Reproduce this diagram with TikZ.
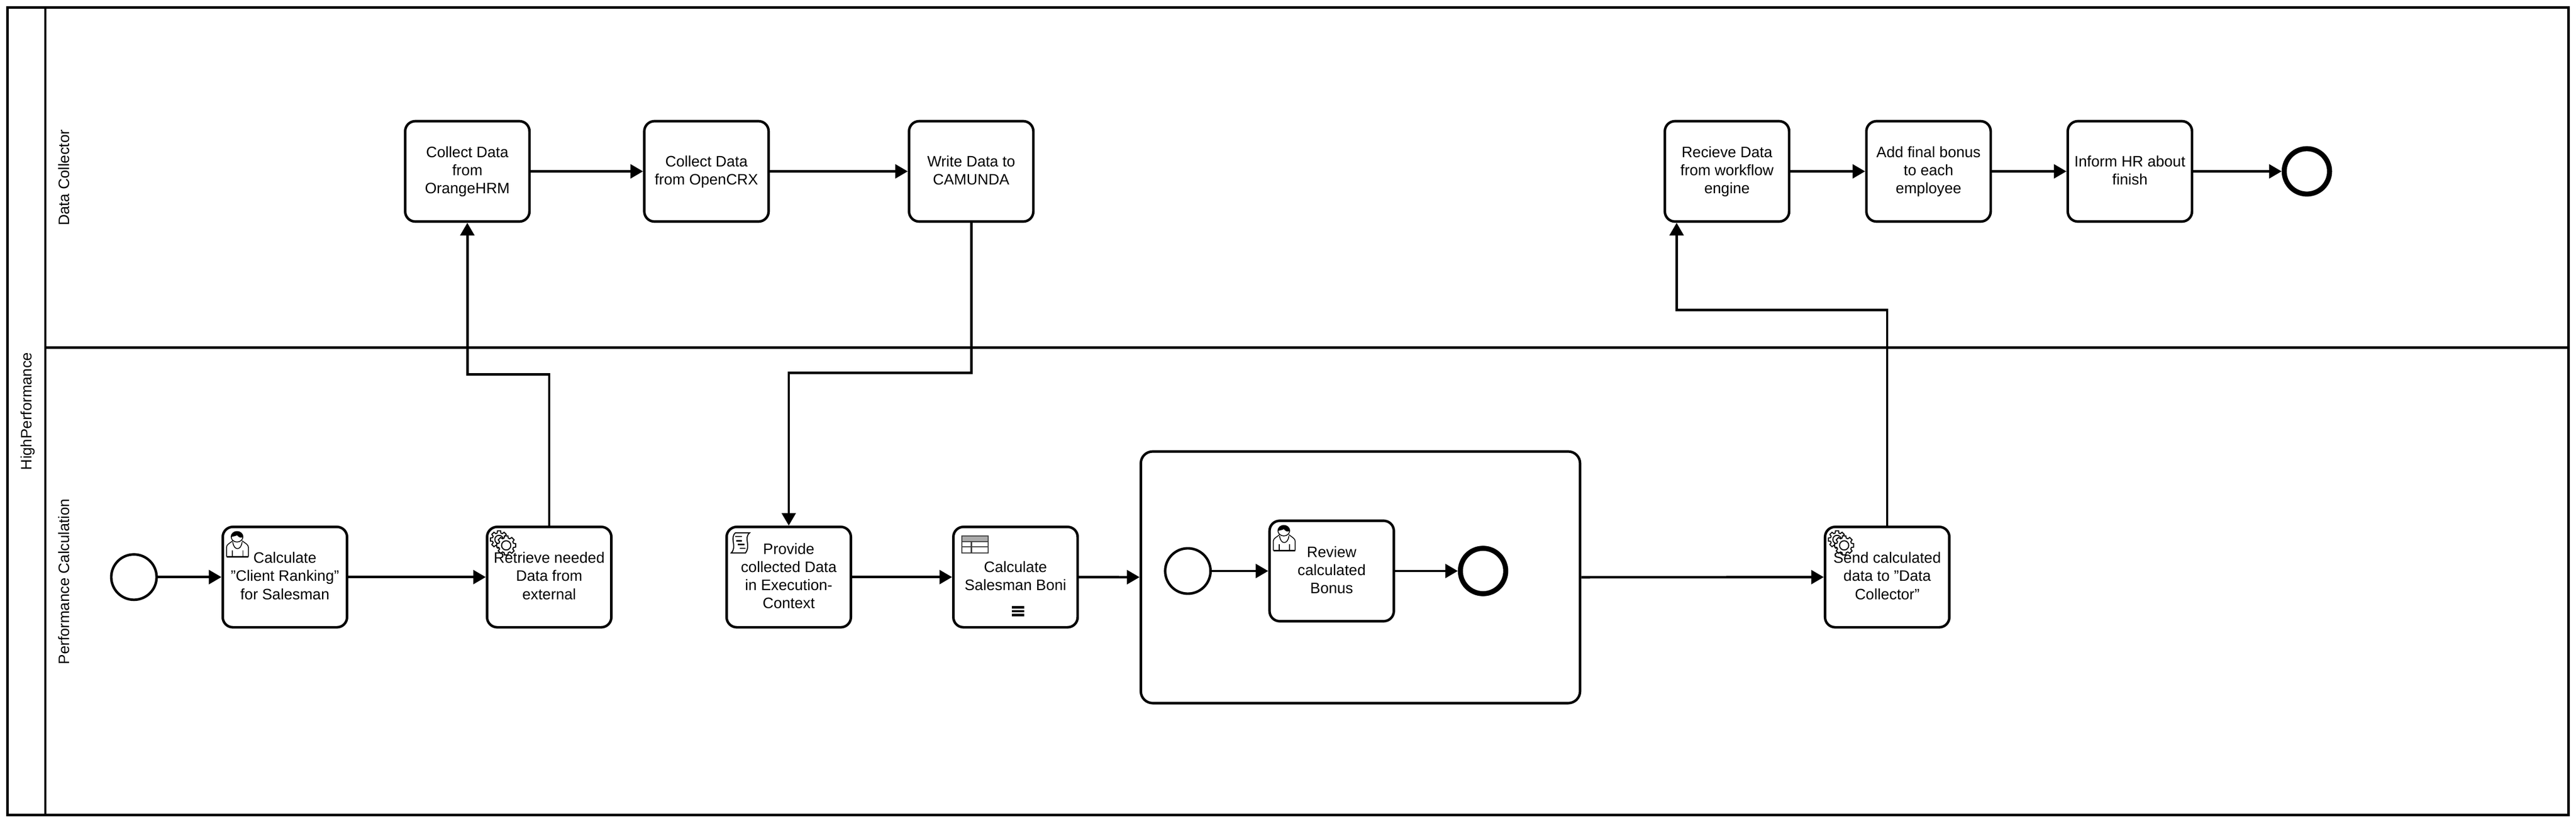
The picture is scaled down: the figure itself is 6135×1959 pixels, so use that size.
\documentclass[tikz,border=0pt]{standalone}
\usepackage{fontspec}
\setmainfont{Liberation Sans}
\usetikzlibrary{
    arrows.meta,
    shapes.geometric,
    calc
}
\tikzset{task/.style={draw=black, line width=6pt, rounded corners=24pt, minimum width=296pt, minimum height=239pt, inner sep=0pt, align=center}}
\tikzset{subp/.style={draw=black, line width=6pt, rounded corners=28pt, minimum width=1046pt, minimum height=599pt, inner sep=0pt}}
\tikzset{evstart/.style={draw=black, circle, line width=6pt, minimum size=108pt, inner sep=0pt}}
\tikzset{evend/.style={draw=black, circle, line width=12pt, minimum size=108pt, inner sep=0pt}}
\tikzset{lanetxt/.style={rotate=90, anchor=base, inner sep=0pt}}
\tikzset{flow/.style={draw=black, line width=6pt, -{Triangle[length=30pt, width=33pt]}}}
\tikzset{plain/.style={draw=black, line width=6pt}}
\tikzset{icoline/.style={draw=black, line width=2.5pt}}
\newcommand{\tasktxt}[1]{\rule{0pt}{30pt}#1\rule[-10pt]{0pt}{10pt}}
\newcommand{\gearat}[4]{
    \draw[icoline, fill=white, shift={(#1,#2)}] (-10:#3)
        \foreach \g in {0,45,...,315}{ -- (\g-10:#3) -- (\g+10:#3) -- (\g+16:#4) -- (\g+29:#4)} -- cycle;
}
\tikzset{
    usrico/.pic={
        \draw[icoline, line width=2pt] (9,71) -- (9,48) .. controls (9,42) and (18,38) .. (24,33);
        \draw[icoline, line width=2pt] (61,71) -- (61,48) .. controls (61,42) and (52,38) .. (46,33);
        \draw[icoline, line width=2pt] (24,36) .. controls (26,57) and (44,57) .. (46,36);
        \draw[icoline, line width=2pt] (34,23.5) ellipse (14 and 12.5);
        \fill[black] (20,24) .. controls (20,6) and (48,6) .. (48,24) .. controls (42,28) and (38,24) .. (34,20) .. controls (30,22) and (24,23) .. (20,24) -- cycle;
        \draw[icoline, line width=2pt] (23,56) -- (23,71);
        \draw[icoline, line width=2pt] (48,56) -- (48,71);
        \draw[icoline, line width=3pt] (9,71) -- (61,71);
    },
    gearico/.pic={
        \gearat{28.5}{30}{21}{16}
        \draw[icoline] (28.5,30) circle (10);
        \gearat{45.5}{44}{23}{18}
        \draw[icoline] (45.5,44) circle (11);
    },
    scrico/.pic={
        \draw[icoline, fill=white] (21,14) -- (55,14) .. controls (40,26) and (58,44) .. (45,62) -- (11,62) .. controls (26,46) and (6,28) .. (21,14) -- cycle;
        \draw[icoline, line width=3pt] (20,23) -- (36,23);
        \draw[icoline, line width=3pt] (23,33) -- (36,33);
        \draw[icoline, line width=3pt] (27,42) -- (43,42);
        \draw[icoline, line width=3pt] (31,51) -- (45,51);
    },
    tblico/.pic={
        \fill[black!33] (20,22) rectangle (83,35);
        \draw[icoline, draw=black!75] (20,22) rectangle (83,62);
        \draw[icoline, draw=black!75] (20,35) -- (83,35);
        \draw[icoline, draw=black!75] (20,47) -- (83,47);
        \draw[icoline, draw=black!75] (43,35) -- (43,62);
    },
    parico/.pic={
        \fill[black] (139,189) rectangle (169,194);
        \fill[black] (139,198) rectangle (169,203);
        \fill[black] (139,207) rectangle (169,213);
    }
}
\begin{document}
\begin{tikzpicture}[x=1pt, y=-1pt, every node/.style={font=\fontsize{36}{43}\selectfont}]
                        \path[fill=white, use as bounding box] (0, 0) rectangle (6135, 1959);

                        \draw[plain] (18, 18) rectangle (6117, 1941);
                        \draw[plain] (108, 18) -- (108, 1941);
                        \draw[plain] (108, 828) -- (6117, 828);

                        \node[lanetxt] (pool) at (75, 979) {HighPerformance};
                        \node[lanetxt] (lanea) at (165, 423) {Data Collector};
                        \node[lanetxt] (laneb) at (165, 1385) {Performance Calculation};

                        \pic at (530.5, 1254.5) {usrico};
                        \pic at (1160, 1254.5) {gearico};
                        \pic at (1730.5, 1254.5) {scrico};
                        \pic at (2270.5, 1254.5) {tblico};
                        \pic at (2270.5, 1254.5) {parico};
                        \pic at (3023.5, 1240) {usrico};
                        \pic at (4346.5, 1254.5) {gearico};

                        \node[task] (hrm) at (1113, 408) {\tasktxt{Collect Data\\from\\OrangeHRM}};
                        \node[task] (crx) at (1682.5, 408) {\tasktxt{Collect Data\\from OpenCRX}};
                        \node[task] (wrt) at (2313, 408) {\tasktxt{Write Data to\\CAMUNDA}};
                        \node[task] (rcv) at (4113, 408) {\tasktxt{Recieve Data\\from workflow\\engine}};
                        \node[task] (add) at (4593, 408) {\tasktxt{Add final bonus\\to each\\employee}};
                        \node[task] (inf) at (5072.5, 408) {\tasktxt{Inform HR about\\finish}};
                        \node[evend] (enda) at (5494, 408) {};

                        \node[evstart] (sta) at (319, 1374) {};
                        \node[task] (cal) at (678.5, 1374) {\tasktxt{Calculate\\"Client Ranking"\\for Salesman}};
                        \node[task] (ret) at (1308, 1374) {\tasktxt{Retrieve needed\\Data from\\external}};
                        \node[task] (prv) at (1878.5, 1374) {\tasktxt{Provide\\collected Data\\in Execution-\\Context}};
                        \node[task] (bon) at (2418.5, 1374) {\tasktxt{Calculate\\Salesman Boni}};
                        \node[subp] (sub) at (3240, 1374.5) {};
                        \node[evstart] (stb) at (2829, 1359.5) {};
                        \node[task] (rev) at (3171.5, 1359.5) {\tasktxt{Review\\calculated\\Bonus}};
                        \node[evend] (endb) at (3532, 1359.5) {};
                        \node[task] (snd) at (4494.5, 1374) {\tasktxt{Send calculated\\data to "Data\\Collector"}};

                        \coordinate (bendr) at (0, 891);
                        \coordinate (bendw) at (0, 888);
                        \coordinate (bends) at (0, 738);
                        \coordinate (rcvin) at ([xshift=31pt]rcv.south west);

                        \draw[flow] (hrm) -- (crx);
                        \draw[flow] (crx) -- (wrt);
                        \draw[flow] (rcv) -- (add);
                        \draw[flow] (add) -- (inf);
                        \draw[flow] (inf) -- (enda);

                        \draw[flow] (sta) -- (cal);
                        \draw[flow] (cal) -- (ret);
                        \draw[flow] (prv) -- (bon);
                        \draw[flow] (bon) -- (sub);
                        \draw[flow] (sub) -- (snd);
                        \draw[flow] (stb) -- (rev);
                        \draw[flow] (rev) -- (endb);

                        \draw[flow] (ret.north) |- (bendr -| hrm.south) -- (hrm.south);
                        \draw[flow] (wrt.south) |- (bendw -| prv.north) -- (prv.north);
                        \draw[flow] (snd.north) |- (bends -| rcvin) -- (rcvin);
                    \end{tikzpicture}
\end{document}
